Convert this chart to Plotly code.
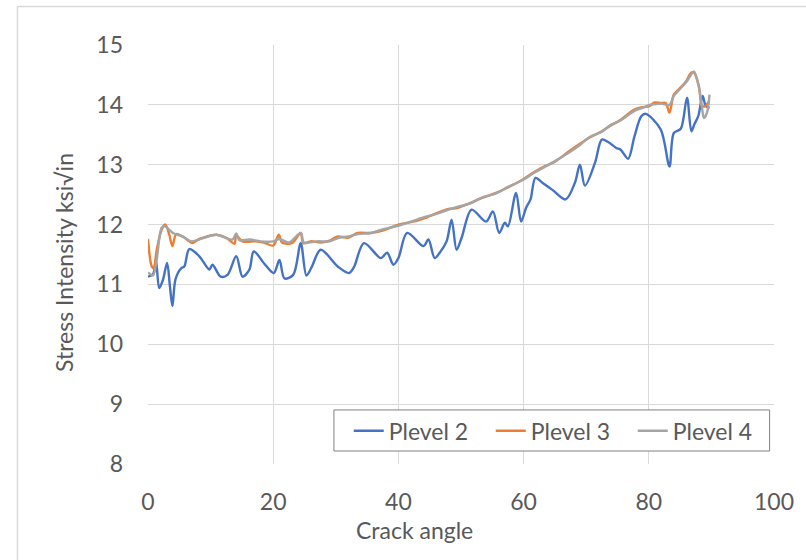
import plotly.graph_objects as go

# Crack angle (deg) and stress intensity (ksi*sqrt(in)) for each p-level
angle_p2 = [0, 0.8, 1.26, 1.79, 2.4, 3.05, 3.5, 3.9, 4.4, 5.3, 5.8, 6.6, 8.2, 9.8, 10.3,
            11.6, 12.7, 14.1, 15.1, 16.2, 16.9, 18.7, 20.1, 21.0, 21.8, 23.2, 24.4, 25.3,
            26.1, 27.6, 30.3, 32.1, 32.9, 34.5, 37.2, 38.2, 39.2, 40.0, 41.4, 44.0, 44.8,
            45.8, 46.6, 47.7, 48.5, 49.3, 50.1, 51.7, 54.0, 55.1, 56.1, 57.0, 57.5, 58.8,
            59.6, 60.4, 61.1, 61.9, 63.0, 64.6, 66.7, 68.2, 69.0, 69.8, 71.4, 72.5, 73.5,
            74.8, 75.5, 76.7, 77.7, 78.8, 79.5, 81.9, 83.3, 84.0, 85.1, 86.1, 86.8, 87.3,
            87.9, 88.6, 89.1, 89.7]
k_p2 = [11.13, 11.17, 11.41, 10.94, 11.08, 11.36, 10.97, 10.64, 11.09, 11.27, 11.30, 11.59,
        11.47, 11.25, 11.33, 11.13, 11.16, 11.47, 11.13, 11.25, 11.55, 11.33, 11.19, 11.41,
        11.10, 11.16, 11.69, 11.15, 11.28, 11.58, 11.30, 11.19, 11.29, 11.69, 11.44, 11.53,
        11.33, 11.44, 11.86, 11.64, 11.75, 11.44, 11.53, 11.72, 12.08, 11.58, 11.78, 12.25,
        12.05, 12.22, 11.86, 12.03, 11.97, 12.53, 12.05, 12.28, 12.42, 12.78, 12.70, 12.58,
        12.42, 12.70, 13.00, 12.65, 13.03, 13.42, 13.38, 13.28, 13.25, 13.10, 13.47, 13.81,
        13.85, 13.59, 12.97, 13.53, 13.60, 14.12, 13.56, 13.68, 13.81, 14.15, 13.98, 13.95]

angle_p3 = [0, 0.6, 0.9, 1.4, 2.2, 2.8, 3.4, 3.9, 4.5, 5.5, 6.6, 7.1, 8.2, 9.3, 10.9, 12.5,
            13.8, 14.1, 15.1, 17.2, 18.5, 20.0, 20.9, 21.4, 23.0, 24.4, 24.8, 26.0, 27.7,
            29.0, 30.3, 32.0, 33.5, 35.6, 37.5, 40.0, 42.0, 44.0, 46.1, 48.0, 49.5, 51.4,
            53.5, 55.6, 57.5, 59.8, 61.9, 63.5, 65.0, 67.2, 69.0, 70.5, 72.5, 74.0, 75.5,
            77.7, 79.0, 80.1, 80.9, 82.0, 82.7, 83.3, 84.0, 85.0, 86.0, 86.7, 87.2, 88.0,
            88.5, 89.0, 89.6]
k_p3 = [11.76, 11.30, 11.27, 11.58, 11.92, 12.00, 11.83, 11.64, 11.84, 11.80, 11.72, 11.69,
        11.76, 11.80, 11.83, 11.78, 11.68, 11.82, 11.72, 11.72, 11.70, 11.65, 11.83, 11.70,
        11.69, 11.86, 11.69, 11.72, 11.70, 11.73, 11.80, 11.78, 11.86, 11.86, 11.90, 12.00,
        12.04, 12.10, 12.19, 12.26, 12.28, 12.36, 12.45, 12.53, 12.62, 12.75, 12.89, 12.98,
        13.05, 13.22, 13.35, 13.45, 13.56, 13.66, 13.75, 13.92, 13.96, 13.98, 14.04, 14.03,
        14.03, 13.87, 14.17, 14.28, 14.40, 14.53, 14.54, 14.31, 13.98, 13.98, 14.06]

angle_p4 = [0, 0.8, 1.37, 2.2, 2.7, 4.0, 5.6, 6.9, 8.7, 10.9, 13.5, 14.1, 14.6, 16.2, 18.0,
            20.0, 21.0, 22.5, 24.4, 24.9, 27.0, 29.0, 30.5, 32.0, 33.5, 35.6, 37.5, 40.0,
            42.0, 44.0, 46.1, 48.0, 49.5, 51.4, 53.5, 55.6, 57.5, 59.8, 61.9, 63.5, 65.0,
            67.2, 69.0, 70.5, 72.5, 74.0, 75.5, 77.7, 79.0, 80.1, 80.9, 82.0, 83.3, 84.0,
            85.0, 86.0, 86.7, 87.2, 88.0, 88.5, 88.8, 89.3, 89.7]
k_p4 = [11.20, 11.15, 11.40, 11.95, 11.97, 11.86, 11.80, 11.72, 11.77, 11.83, 11.75, 11.85,
        11.74, 11.75, 11.72, 11.72, 11.76, 11.70, 11.86, 11.70, 11.72, 11.72, 11.78, 11.80,
        11.84, 11.86, 11.92, 11.98, 12.05, 12.12, 12.18, 12.25, 12.30, 12.35, 12.46, 12.52,
        12.63, 12.74, 12.88, 12.97, 13.06, 13.20, 13.33, 13.46, 13.55, 13.67, 13.74, 13.90,
        13.95, 14.00, 14.01, 14.02, 14.00, 14.15, 14.27, 14.38, 14.50, 14.56, 14.30, 13.95,
        13.78, 13.87, 14.17]

series = [
    ("Plevel 2", angle_p2, k_p2, "#4472C4"),
    ("Plevel 3", angle_p3, k_p3, "#ED7D31"),
    ("Plevel 4", angle_p4, k_p4, "#A5A5A5"),
]

FONT = "Lato, 'Open Sans', sans-serif"
TEXT = "#595959"
GRID = "#D9D9D9"

fig = go.Figure()
for name, x, y, color in series:
    fig.add_trace(go.Scatter(
        x=x, y=y, name=name, mode="lines",
        line=dict(color=color, width=2.4, shape="spline", smoothing=0.9),
    ))

fig.update_layout(
    width=806, height=560,
    margin=dict(l=148, r=25, t=45, b=96),
    paper_bgcolor="white", plot_bgcolor="white",
    font=dict(family=FONT, size=23, color=TEXT),
    showlegend=True,
    legend=dict(
        orientation="h", x=0.3207, xanchor="left", y=0.028, yanchor="bottom",
        bgcolor="rgba(0,0,0,0)", borderwidth=0,
        font=dict(family=FONT, size=23, color=TEXT),
        entrywidth=97, entrywidthmode="pixels",
    ),
    xaxis=dict(
        range=[0, 100], dtick=20, tick0=0,
        showgrid=True, gridcolor=GRID, gridwidth=1,
        zeroline=False, showline=False, ticks="",
        ticklabelstandoff=22,
        tickfont=dict(family=FONT, size=23, color=TEXT),
    ),
    yaxis=dict(
        range=[8, 15], dtick=1, tick0=8,
        showgrid=True, gridcolor=GRID, gridwidth=1,
        zeroline=False, showline=False, ticks="",
        ticklabelstandoff=24,
        tickfont=dict(family=FONT, size=23, color=TEXT),
    ),
    annotations=[
        dict(text="Crack angle", xref="paper", yref="paper",
             x=0.4265, y=-0.158, xanchor="center", yanchor="middle",
             showarrow=False, font=dict(family=FONT, size=23, color=TEXT)),
        dict(text="Stress Intensity ksi\u221ain", xref="paper", yref="paper",
             x=-0.134, y=0.48, xanchor="center", yanchor="middle", textangle=-90,
             showarrow=False, font=dict(family=FONT, size=23, color=TEXT)),
    ],
    shapes=[
        # chart-area frame (top and left edges)
        dict(type="line", xref="paper", yref="paper",
             x0=-0.2085, x1=1.1, y0=1.092, y1=1.092,
             line=dict(color=GRID, width=1.5)),
        dict(type="line", xref="paper", yref="paper",
             x0=-0.2085, x1=-0.2085, y0=1.092, y1=-0.3,
             line=dict(color=GRID, width=1.5)),
        # legend box
        dict(type="rect", xref="paper", yref="paper", layer="above",
             x0=0.297, x1=0.993, y0=0.031, y1=0.129,
             fillcolor="white", line=dict(color="#808080", width=1)),
    ],
)

fig.write_html("out.html")
